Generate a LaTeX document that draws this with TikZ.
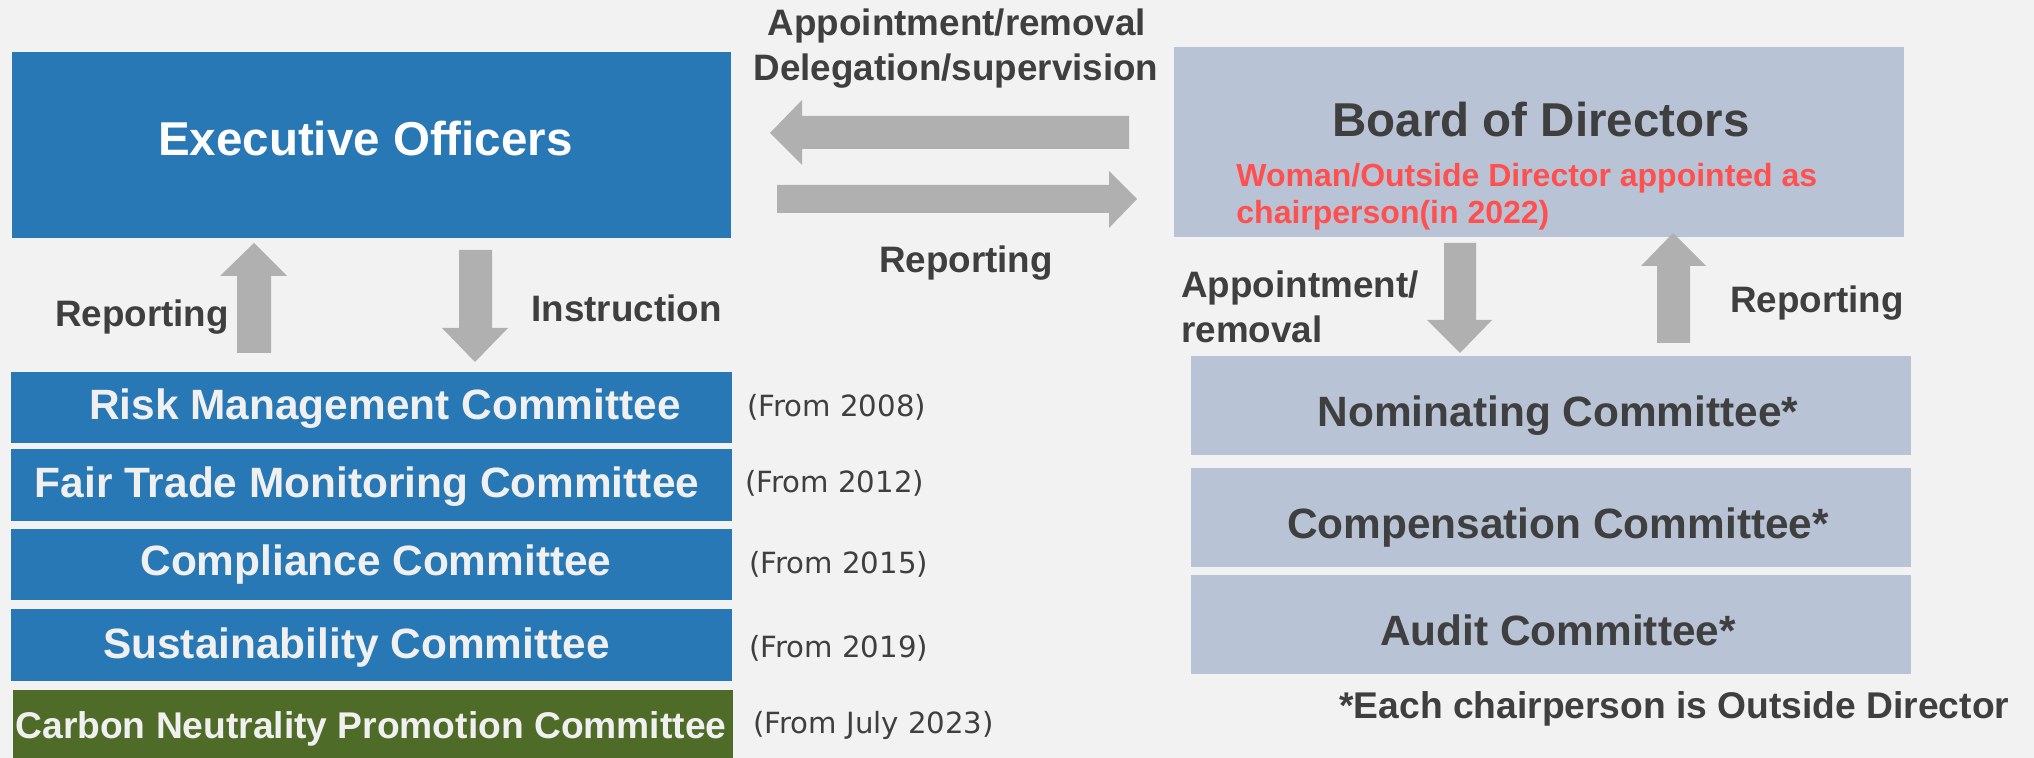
\documentclass[tikz,border=0pt]{standalone}
\usepackage{fontspec}
\setmainfont{Liberation Sans}
\newfontfamily\datefont{DejaVu Sans}
\definecolor{bgc}{HTML}{F2F2F2}
\definecolor{eoblue}{HTML}{2778B5}
\definecolor{bodgray}{HTML}{B8C4D6}
\definecolor{cngreen}{HTML}{4F6B28}
\definecolor{arrgray}{HTML}{B0B0B0}
\definecolor{darktxt}{HTML}{3F3F3F}
\definecolor{redtxt}{HTML}{FF5050}
\definecolor{lighttxt}{HTML}{F0F0F0}
\tikzset{
  box/.style={anchor=north west, inner sep=0pt, outer sep=0pt, draw=none},
  bluebox/.style={box, fill=eoblue},
  greybox/.style={box, fill=bodgray},
  greenbox/.style={box, fill=cngreen},
  blockarrow/.style={fill=arrgray, draw=none},
  bigtxt/.style={anchor=base, inner sep=0pt, font=\fontsize{23.75}{28}\selectfont\bfseries},
  comtxt/.style={anchor=base, inner sep=0pt, font=\fontsize{21.2}{25}\selectfont\bfseries},
  lbltxt/.style={anchor=base, inner sep=0pt, text=darktxt, font=\fontsize{18.4}{22}\selectfont\bfseries},
  datetxt/.style={anchor=base west, inner sep=0pt, text=darktxt, font=\datefont\fontsize{14.6}{17}\selectfont},
  redlbl/.style={anchor=base west, inner sep=0pt, text=redtxt, font=\fontsize{16}{19}\selectfont\bfseries},
}
\begin{document}
\begin{tikzpicture}[x=0.5pt,y=-0.5pt]
\fill[bgc] (0,0) rectangle (2034,758);
\useasboundingbox (0,0) rectangle (2034,758);

% boxes
\node[bluebox, minimum width=359.5pt, minimum height=93pt] (eo) at (12,52) {};
\node[greybox, minimum width=365pt, minimum height=95pt] (bod) at (1174,47) {};
\node[bluebox, minimum width=360.5pt, minimum height=35.5pt] (risk) at (11,372) {};
\node[bluebox, minimum width=360.5pt, minimum height=36pt] (fair) at (11,449) {};
\node[bluebox, minimum width=360.5pt, minimum height=35.5pt] (compl) at (11,529) {};
\node[bluebox, minimum width=360.5pt, minimum height=36pt] (sust) at (11,609) {};
\node[greenbox, minimum width=360pt, minimum height=34pt] (carbon) at (13,690) {};
\node[greybox, minimum width=360pt, minimum height=49.5pt] (nom) at (1191,356) {};
\node[greybox, minimum width=360pt, minimum height=49.5pt] (cmp) at (1191,468) {};
\node[greybox, minimum width=360pt, minimum height=49.5pt] (aud) at (1191,575) {};

% box texts
\node[bigtxt, text=white] (eot) at (365.5,156) {Executive Officers};
\node[bigtxt, text=darktxt] (bodt) at (1541,137) {Board of Directors};
\node[redlbl] (red1) at (1236,187) {Woman/Outside Director appointed as};
\node[redlbl] (red2) at (1236,224) {chairperson(in 2022)};

\node[comtxt, text=lighttxt] (riskt) at (385,420) {Risk Management Committee};
\node[comtxt, text=lighttxt] (fairt) at (367,498) {Fair Trade Monitoring Committee};
\node[comtxt, text=lighttxt] (complt) at (376,575) {Compliance Committee};
\node[comtxt, text=lighttxt] (sustt) at (356.5,658) {Sustainability Committee};
\node[anchor=base, inner sep=0pt, text=lighttxt, font=\fontsize{18.6}{22}\selectfont\bfseries] (carbont) at (371,738) {Carbon Neutrality Promotion Committee};

\node[comtxt, text=darktxt] (nomt) at (1558,427) {Nominating Committee*};
\node[comtxt, text=darktxt] (cmpt) at (1558,539) {Compensation Committee*};
\node[comtxt, text=darktxt] (audt) at (1558,645) {Audit Committee*};
\node[anchor=base west, inner sep=0pt, text=darktxt, font=\fontsize{18.6}{22}\selectfont\bfseries] (foot) at (1339,718) {*Each chairperson is Outside Director};

% dates
\node[datetxt] (d1) at (747,417) {(From 2008)};
\node[datetxt] (d2) at (745,493) {(From 2012)};
\node[datetxt] (d3) at (749,574) {(From 2015)};
\node[datetxt] (d4) at (749,657) {(From 2019)};
\node[datetxt] (d5) at (753,733) {(From July 2023)};

% labels
\node[lbltxt] (l1) at (957,36) {Appointment/removal};
\node[lbltxt] (l2) at (956,81) {Delegation/supervision};
\node[lbltxt] (l3) at (966,273) {Reporting};
\node[lbltxt] (l4) at (142,327) {Reporting};
\node[lbltxt] (l5) at (626.5,322) {Instruction};
\node[lbltxt, anchor=base west] (l6) at (1181,298) {Appointment/};
\node[lbltxt, anchor=base west] (l7) at (1181,343) {removal};
\node[lbltxt] (l8) at (1817,313) {Reporting};

% block arrows
\fill[blockarrow] (1129,116) -- (802,116) -- (802,100) -- (770,133) -- (802,165) -- (802,149) -- (1129,149) -- cycle;
\fill[blockarrow] (777,185) -- (1109,185) -- (1109,171) -- (1137,199) -- (1109,228) -- (1109,213) -- (777,213) -- cycle;
\fill[blockarrow] (237,353) -- (237,276) -- (220,276) -- (254,243) -- (287,276) -- (271,276) -- (271,353) -- cycle;
\fill[blockarrow] (459,250) -- (492,250) -- (492,328) -- (508,328) -- (475,362) -- (442,328) -- (459,328) -- cycle;
\fill[blockarrow] (1444,243) -- (1476,243) -- (1476,320) -- (1492,320) -- (1460,353) -- (1427,320) -- (1444,320) -- cycle;
\fill[blockarrow] (1657,343) -- (1657,266) -- (1641,266) -- (1673,233) -- (1706,266) -- (1690,266) -- (1690,343) -- cycle;
\end{tikzpicture}
\end{document}
